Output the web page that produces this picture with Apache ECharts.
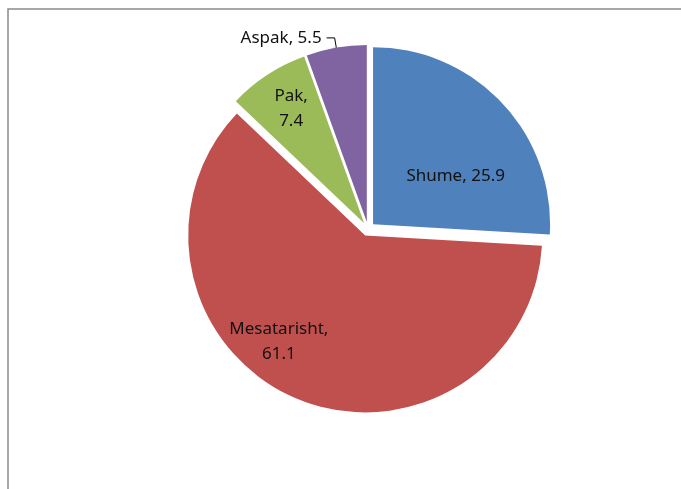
<!DOCTYPE html>
<html lang="sq">
<head>
    <meta charset="UTF-8">
    <title>Pie</title>
    <style>
        html, body { margin: 0; padding: 0; background: #fff; }
        #main { width: 681px; height: 489px; }
    </style>
</head>
<body>
<div id="main"></div>
<script src="https://cdn.jsdelivr.net/npm/echarts@6/dist/echarts.min.js"></script>
<script type="text/javascript">

// data
var categories = ['Shume', 'Mesatarisht', 'Pak', 'Aspak'];
var values = [25.9, 61.1, 7.4, 5.5];
var colors = ['#4F81BD', '#C0504D', '#9BBB59', '#8064A2'];
// label tweaks so they sit where Excel put them
var labelFormats = ['{b}, {c}', '{b},\n{c}', '{b},\n{c}', '{b}, {c}'];
var labelShift = [[16, 15], [-50, 22], [-23, -38], [0, 0]];

var myChart = echarts.init(document.getElementById('main'));

var pieData = [];
for (var i = 0; i < categories.length; i++) {
    pieData.push({
        name: categories[i],
        value: values[i],
        selected: true,
        itemStyle: {color: colors[i]},
        label: {
            position: i === 3 ? 'outside' : 'inside',
            formatter: labelFormats[i]
        }
    });
}

myChart.setOption({
    backgroundColor: '#fff',
    animation: false,
    graphic: [{
        type: 'rect',
        shape: {x: 8, y: 9, width: 800, height: 600},
        style: {fill: null, stroke: '#8a8a8a', lineWidth: 1.5},
        silent: true
    }],
    series: [{
        type: 'pie',
        center: [368, 229],
        radius: [0, 177],
        startAngle: 90,
        clockwise: true,
        selectedMode: 'multiple',
        selectedOffset: 7,
        avoidLabelOverlap: false,
        emphasis: {disabled: true},
        label: {
            fontFamily: 'Noto Sans',
            fontSize: 17,
            lineHeight: 25,
            color: '#111'
        },
        labelLine: {
            show: true,
            length: 10,
            length2: 8,
            lineStyle: {color: '#000', width: 1}
        },
        labelLayout: function (params) {
            var s = labelShift[params.dataIndex];
            return {dx: s[0], dy: s[1]};
        },
        data: pieData
    }]
});

</script>
</body>
</html>
